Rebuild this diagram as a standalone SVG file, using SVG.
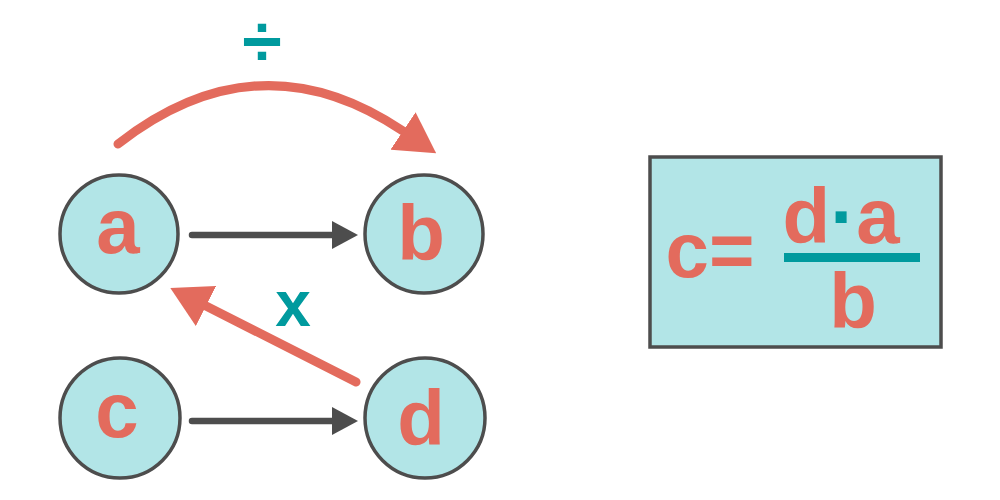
<svg xmlns="http://www.w3.org/2000/svg" width="1000" height="500" viewBox="0 0 1000 500">
<style>
.node{fill:#b2e5e7;stroke:#4d4d4d;stroke-width:3.5}
.lbl{font-family:"Liberation Sans",Arial,sans-serif;font-weight:bold;font-size:78px;fill:#e36b5d;text-anchor:middle}
.teal{font-family:"Liberation Sans",Arial,sans-serif;font-weight:bold;fill:#009a9e;text-anchor:middle}
.gray{stroke:#4d4d4d;stroke-width:6.5;fill:none;stroke-linecap:round}
.red{stroke:#e36b5d;stroke-width:9;fill:none;stroke-linecap:round}
</style>
<defs>
<marker id="ag" markerUnits="userSpaceOnUse" markerWidth="26" markerHeight="28" viewBox="0 0 26 28" refX="0" refY="14" orient="auto"><path d="M0,0 L26,14 L0,28 Z" fill="#4d4d4d"/></marker>
<marker id="ar" markerUnits="userSpaceOnUse" markerWidth="40" markerHeight="45" viewBox="0 0 40 45" refX="0" refY="22.5" orient="auto"><path d="M0,0 L40,22.5 L0,45 Z" fill="#e36b5d"/></marker>
</defs>
<g id="connectors">
<path class="gray" d="M192,235 L332,235" marker-end="url(#ag)"/>
<path class="gray" d="M192,421 L332,421" marker-end="url(#ag)"/>
<path class="red" d="M118,144 Q259,34 403,131" marker-end="url(#ar)"/>
<path class="red" d="M356,382 L206,306" marker-end="url(#ar)"/>
<text class="teal" x="262" y="66" font-size="72">÷</text>
<text class="teal" x="293" y="326" font-size="64">x</text>
</g>
<g id="node-a"><circle class="node" cx="119" cy="234" r="59"/><text class="lbl" x="118" y="253">a</text></g>
<g id="node-b"><circle class="node" cx="424" cy="234" r="59"/><text class="lbl" x="421" y="260">b</text></g>
<g id="node-c"><circle class="node" cx="120" cy="418" r="60"/><text class="lbl" x="117" y="437">c</text></g>
<g id="node-d"><circle class="node" cx="425" cy="418" r="60"/><text class="lbl" x="421" y="445">d</text></g>
<g id="formula">
<rect x="650" y="157" width="291" height="190" fill="#b2e5e7" stroke="#4d4d4d" stroke-width="3.5"/>
<text class="lbl" x="710" y="277" font-size="76">c=</text>
<text class="lbl" x="841" y="243" font-size="75">d<tspan fill="#009a9e">·</tspan>a</text>
<rect x="784" y="253" width="136" height="9" fill="#009a9e"/>
<text class="lbl" x="853" y="328" font-size="75">b</text>
</g>
</svg>
